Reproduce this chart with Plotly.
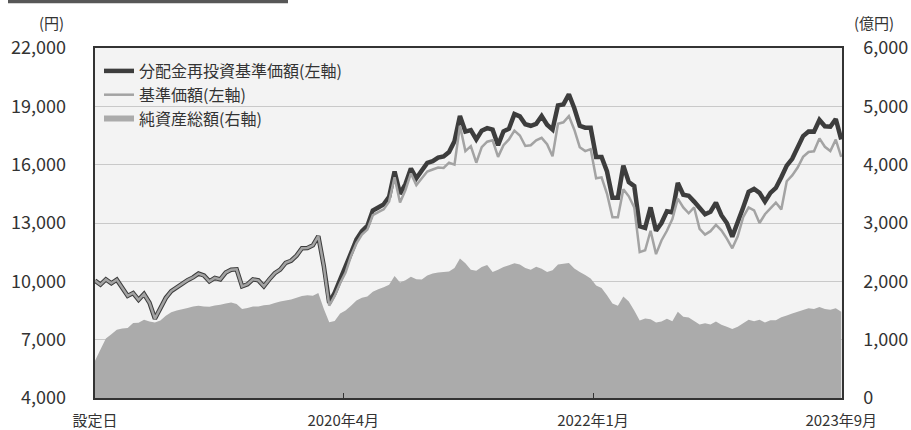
import pandas as pd
import plotly.graph_objects as go

# ---- data ----
start_date = "2018-07-05"
end_date = "2023-09-29"
n_points = 138

nav_reinvest = [
    10036, 9830, 10100, 9900, 10087, 9700, 9250, 9400, 9050, 9350,
    8900, 8080, 8632, 9150, 9500, 9700, 9900, 10060, 10200, 10400,
    10300, 10000, 10175, 10100, 10450, 10600, 10620, 9743, 9850, 10100,
    10050, 9743, 10100, 10420, 10600, 10950, 11060, 11320, 11700, 11718,
    11850, 12320, 10800, 8889, 9403, 10050, 10700, 11450, 12150, 12580,
    12850, 13640, 13800, 13960, 14350, 15650, 14500, 15000, 15800, 15300,
    15700, 16091, 16180, 16360, 16420, 16650, 17200, 18500, 17700, 17780,
    17300, 17750, 17880, 17800, 17000, 17717, 17850, 18600, 18480, 18080,
    18000, 18100, 18500, 18050, 17803, 19050, 19100, 19620, 18900, 18000,
    17900, 17900, 16400, 16400, 15650, 14300, 14300, 15950, 15100, 14900,
    12829, 12750, 13800, 12600, 13000, 13600, 13550, 15060, 14450, 14400,
    14100, 13775, 13450, 13580, 14050, 13400, 13000, 12300, 13003, 13800,
    14600, 14750, 14550, 14100, 14550, 14802, 15350, 15950, 16300, 16950,
    17470, 17710, 17700, 18300, 17975, 17950, 18350, 17300,
]

nav = [
    10036, 9830, 10100, 9900, 10087, 9700, 9250, 9400, 9050, 9350,
    8900, 8080, 8632, 9150, 9500, 9700, 9900, 10060, 10200, 10400,
    10300, 10000, 10175, 10100, 10450, 10600, 10620, 9743, 9850, 10100,
    10050, 9743, 10100, 10420, 10600, 10950, 11060, 11320, 11700, 11718,
    11850, 12320, 10800, 8750, 9250, 9900, 10450, 11300, 11950, 12400,
    12659, 13400, 13560, 13700, 14100, 15350, 14050, 14700, 15550, 14950,
    15300, 15650, 15750, 15850, 15832, 16100, 16000, 18000, 16700, 16950,
    16100, 16900, 17180, 17250, 16400, 17000, 17300, 17750, 17500, 16960,
    17000, 17250, 17380, 17050, 16430, 18100, 18180, 18500, 17800, 16900,
    16700, 16800, 15300, 15350, 14500, 13300, 13300, 14740, 14373, 13800,
    11500, 11600, 12600, 11400, 12100, 12600, 13200, 14250, 13800, 13500,
    13800, 12700, 12400, 12580, 12900, 12620, 12200, 11700, 12314, 13300,
    13800, 13650, 13000, 13450, 13750, 14050, 13700, 15146, 15450, 15850,
    16400, 16650, 16688, 17350, 16920, 16700, 17288, 16400,
]

net_assets = [
    640, 830, 1020, 1095, 1170, 1190, 1200, 1286, 1290, 1340,
    1310, 1295, 1330, 1410, 1470, 1500, 1520, 1545, 1570, 1580,
    1570, 1565, 1585, 1600, 1622, 1636, 1610, 1525, 1543, 1570,
    1570, 1590, 1599, 1630, 1656, 1670, 1690, 1720, 1750, 1760,
    1755, 1800, 1530, 1300, 1320, 1450, 1500, 1580, 1670, 1720,
    1742, 1820, 1865, 1898, 1940, 2090, 1980, 2020, 2080, 2035,
    2030, 2100, 2135, 2150, 2160, 2170, 2230, 2390, 2310, 2200,
    2180, 2245, 2280, 2160, 2200, 2245, 2275, 2310, 2290, 2230,
    2199, 2250, 2215, 2160, 2190, 2290, 2300, 2315, 2220, 2160,
    2110, 2050, 1930, 1885, 1760, 1620, 1580, 1740, 1656, 1500,
    1330, 1365, 1350, 1295, 1313, 1360, 1315, 1480, 1395, 1380,
    1320, 1260, 1282, 1258, 1310, 1255, 1220, 1185, 1222, 1280,
    1340, 1315, 1340, 1295, 1335, 1335, 1385, 1415, 1448, 1478,
    1510, 1540, 1525, 1558, 1525, 1515, 1540, 1480,
]

x_tick_vals = ["2018-07-05", "2020-04-01", "2022-01-01", "2023-09-29"]
x_tick_text = ["設定日", "2020年4月", "2022年1月", "2023年9月"]
left_ticks = [4000, 7000, 10000, 13000, 16000, 19000, 22000]
right_ticks = [0, 1000, 2000, 3000, 4000, 5000, 6000]

names = ["分配金再投資基準価額(左軸)", "基準価額(左軸)", "純資産総額(右軸)"]

dates = pd.date_range(start_date, end_date, periods=n_points)

FONT = "Noto Sans CJK JP"
TXT = "#333333"
W, H = 911, 430
ML, MR, MT, MB = 95, 69, 48, 32
PW, PH = W - ML - MR, H - MT - MB

fig = go.Figure()

fig.add_trace(go.Scatter(
    x=dates, y=net_assets, name=names[2], yaxis="y",
    mode="none", fill="tozeroy", fillcolor="#ababab",
    legendrank=3,
))
fig.add_trace(go.Scatter(
    x=dates, y=nav_reinvest, name=names[0], yaxis="y2",
    mode="lines", line=dict(color="#3d3d3d", width=4.5),
    legendrank=1,
))
fig.add_trace(go.Scatter(
    x=dates, y=nav, name=names[1], yaxis="y2",
    mode="lines", line=dict(color="#a3a3a3", width=2.5),
    legendrank=2,
))

fig.update_layout(
    template="none",
    width=W, height=H,
    margin=dict(l=ML, r=MR, t=MT, b=MB, autoexpand=False),
    paper_bgcolor="white",
    plot_bgcolor="#f3f3f3",
    font=dict(family=FONT, color=TXT, size=16),
    showlegend=True,
    legend=dict(
        x=(99 - ML) / PW, y=(H - MB - 54) / PH,
        xanchor="left", yanchor="top",
        bgcolor="rgba(0,0,0,0)", borderwidth=0,
        font=dict(family=FONT, size=16, color=TXT),
        tracegroupgap=0,
    ),
    xaxis=dict(
        type="date", automargin=False,
        range=["2018-07-05", "2023-10-01"],
        tickvals=x_tick_vals, ticktext=x_tick_text,
        ticks="inside", ticklen=5, tickcolor=TXT, tickwidth=1.2,
        showgrid=False, zeroline=False,
        showline=True, linecolor=TXT, linewidth=1.5, mirror=True,
        tickfont=dict(family=FONT, size=15, color=TXT),
        ticklabelstandoff=8,
    ),
    yaxis=dict(
        range=[0, 6000], side="right", automargin=False,
        tickvals=right_ticks, tickformat=",",
        showgrid=True, gridcolor="#c9c9c9", gridwidth=1.2,
        zeroline=False, ticks="",
        showline=True, linecolor=TXT, linewidth=1.5, mirror=True,
        tickfont=dict(family=FONT, size=18, color=TXT),
        ticklabelstandoff=16,
    ),
    yaxis2=dict(
        range=[4000, 22000], side="left", overlaying="y", automargin=False,
        tickvals=left_ticks, tickformat=",",
        showgrid=False, zeroline=False, ticks="",
        showline=False,
        tickfont=dict(family=FONT, size=18, color=TXT),
        ticklabelstandoff=28,
    ),
    shapes=[dict(
        type="rect", xref="paper", yref="paper",
        x0=(8 - ML) / PW, x1=(288 - ML) / PW,
        y0=1 + (MT - 3.3) / PH, y1=1 + MT / PH,
        fillcolor="#575757", line=dict(width=0), layer="above",
    )],
    annotations=[
        dict(text="(円)", xref="paper", yref="paper",
             x=(66 - ML) / PW, y=1 + (MT - 22) / PH,
             xanchor="right", yanchor="middle", showarrow=False,
             font=dict(family=FONT, size=15, color=TXT)),
        dict(text="(億円)", xref="paper", yref="paper",
             x=(852 - ML) / PW, y=1 + (MT - 22) / PH,
             xanchor="left", yanchor="middle", showarrow=False,
             font=dict(family=FONT, size=15, color=TXT)),
    ],
)

fig.write_html(
    "out.html",
    config={"displayModeBar": False},
    post_script="document.body.style.margin='0px';document.body.style.overflow='hidden';",
)
